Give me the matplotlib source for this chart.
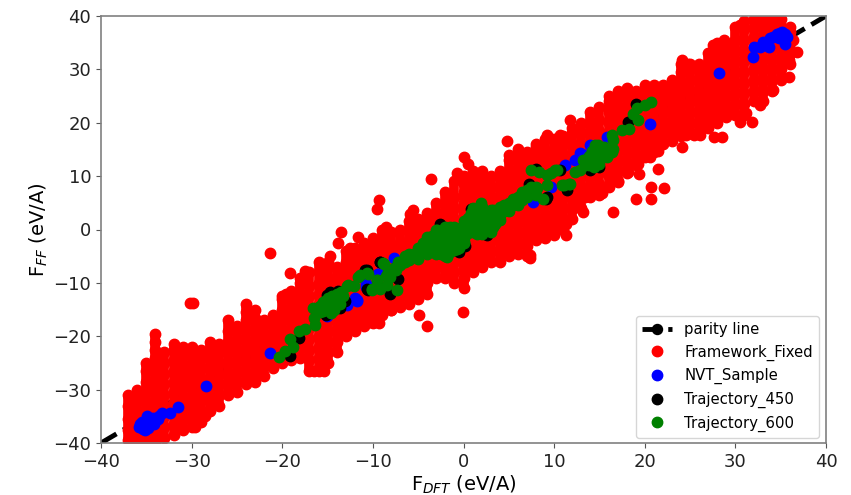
import matplotlib
matplotlib.use('Agg')
import matplotlib.pyplot as plt

parity = [-40, 0, 40]

# Framework_Fixed, main band read column by column
fixed_cols = [-37, -36, -35, -34, -33, -32, -31, -30, -29, -28, -27, -26, -25, -24, -23, -22, -21, -20, -19, -18,
              -17, -16, -15, -14, -13, -12, -11, -10, -9, -8, -7, -6, -5, -4, -3, -2, -1, 0, 1, 2, 3, 4, 5, 6, 7, 8,
              9, 10, 11, 12, 13, 14, 15, 16, 17, 18, 19, 20, 21, 22, 23, 24, 25, 26, 27, 28, 29, 30, 31, 32, 33, 34,
              35, 36]
fixed_ys = [
    [-39.5, -37.5, -35.5, -33, -31],
    [-40, -38, -36, -34, -32, -30],
    [-40, -38.5, -36.5, -34.5, -32.5, -30.5, -28.5, -26.5, -25],
    [-40, -38, -36, -34, -32, -30, -28, -26, -24, -22.5, -21, -19.5],
    [-39, -37, -35, -33, -31, -29, -27, -25, -23],
    [-38.5, -36.5, -34.5, -32.5, -30.5, -28.5, -26.5, -24.5, -22.5, -21.5],
    [-37.5, -35.5, -33.5, -31.5, -29.5, -27.5, -25.5, -23.5, -22],
    [-37, -35, -33, -31, -29, -27, -25, -23, -22],
    [-36, -34, -32, -30, -28, -26, -24, -22.5],
    [-34, -32, -30, -28, -26, -24, -22.5, -21],
    [-33, -31, -29, -27, -25, -23, -21.5],
    [-31, -29, -27, -25, -23, -21, -19, -17],
    [-30.5, -28.5, -26.5, -24.5, -22.5, -20.5, -18],
    [-29, -27, -25, -23, -21, -19, -17, -15.5, -14],
    [-28.5, -26.5, -24.5, -22.5, -20.5, -18.5, -16.5, -15],
    [-27.5, -25.5, -23.5, -21.5, -19.5, -17],
    [-26, -24, -22, -20, -18, -16],
    [-25, -23, -21, -19, -17, -15, -13, -12.5],
    [-24.5, -22.5, -20.5, -18.5, -16.5, -14.5, -13, -11.5],
    [-24, -22, -20, -18, -16, -14, -12, -10, -9],
    [-26.5, -24.5, -22.5, -20.5, -18.5, -16.5, -14.5, -12.5, -10.5, -8],
    [-26.5, -24, -22, -20, -18, -16, -14, -12, -10, -8, -6],
    [-25, -23, -21, -19, -17, -15, -13, -11, -9, -7, -6],
    [-23, -21, -19, -17, -15, -13, -11, -9, -7],
    [-20, -18, -16, -14, -12, -10, -8, -6, -4],
    [-19, -17, -15, -13, -11, -9, -7, -5, -3.5],
    [-18, -16, -14, -12, -10, -8, -6, -4, -2.5],
    [-17.5, -15.5, -13.5, -11.5, -9.5, -7.5, -5.5, -3.5, -1.5],
    [-16, -14, -12, -10, -8, -6, -4, -2, 0],
    [-15, -13, -11, -9, -7, -5, -3, -0.5],
    [-14.5, -12.5, -10.5, -8.5, -6.5, -4.5, -2.5, 0],
    [-14, -12, -10, -8, -6, -4, -2, 0, 1.5],
    [-13, -11, -9, -7, -5, -3, -1, 1, 2],
    [-12, -10, -8, -6, -4, -2, 0, 2, 3],
    [-9, -7, -5, -3, -1, 1, 3, 5],
    [-9, -7, -5, -3, -1, 1, 3, 5, 7],
    [-10, -8, -6, -4, -2, 0, 2, 4, 6, 9],
    [-11, -9, -7, -5, -3, -1, 1, 3, 5, 7, 8.5, 10],
    [-8, -6, -4, -2, 0, 2, 4, 6, 8, 9.5, 11],
    [-7, -5, -3, -1, 1, 3, 5, 7, 9, 11],
    [-6, -4, -2, 0, 2, 4, 6, 8, 10],
    [-6, -4, -2, 0, 2, 4, 6, 8, 10, 11],
    [-5, -3, -1, 1, 3, 5, 7, 9, 11, 13, 14],
    [-4.5, -2.5, -0.5, 1.5, 3.5, 5.5, 7.5, 9.5, 11.5, 13.5, 15],
    [-5, -3, -1, 1, 3, 5, 7, 9, 11, 13, 14.5],
    [-2, 0, 2, 4, 6, 8, 10, 12, 14, 15.5],
    [-1.5, 0.5, 2.5, 4.5, 6.5, 8.5, 10.5, 12.5, 14.5, 17],
    [-1, 1, 3, 5, 7, 9, 11, 13, 15, 17],
    [0, 2, 4, 6, 8, 10, 12, 14, 16, 17.5],
    [2, 4, 6, 8, 10, 12, 14, 16, 18, 19],
    [4, 6, 8, 10, 12, 14, 16, 18, 20],
    [6, 8, 10, 12, 14, 16, 18, 20, 22],
    [6.5, 8.5, 10.5, 12.5, 14.5, 16.5, 18.5, 20.5, 23],
    [8, 10, 12, 14, 16, 18, 20, 22, 24, 25],
    [9, 11, 13, 15, 17, 19, 21, 23, 25, 26],
    [10.5, 12.5, 14.5, 16.5, 18.5, 20.5, 22.5, 24.5, 26.5],
    [12, 14, 16, 18, 20, 22, 24, 26],
    [13.5, 15.5, 17.5, 19.5, 21.5, 23.5, 25.5, 27],
    [14.5, 16.5, 18.5, 20.5, 22.5, 24.5, 27],
    [16, 18, 20, 22, 24, 26, 27],
    [16.5, 18.5, 20.5, 22.5, 24.5, 26.5, 28],
    [17.5, 19.5, 21.5, 23.5, 25.5, 27.5, 29.5, 31],
    [18, 20, 22, 24, 26, 28, 30, 31],
    [18, 20, 22, 24, 26, 28, 30, 31],
    [19, 21, 23, 25, 27, 29, 31, 33],
    [20, 22, 24, 26, 28, 30, 32, 34, 35],
    [21, 23, 25, 27, 29, 31, 33, 34.5],
    [21.5, 23.5, 25.5, 27.5, 29.5, 31.5, 33.5, 35.5, 38],
    [21.5, 23.5, 25.5, 27.5, 29.5, 31.5, 33.5, 35.5, 37.5, 39],
    [24, 26, 28, 30, 32, 34, 36, 38, 39.5],
    [24, 26, 28, 30, 32, 34, 36, 38, 39.5],
    [26, 28, 30, 32, 34, 36, 38, 39.5],
    [28, 30, 32, 34, 36, 38, 39.5],
    [31, 33, 35, 37, 38],
]

# outliers and spikes off the band
fixed_out_x = [-30.2, -29.8, -29.6, -28.5, -21.3, -19.2, -19.6, -17.5, -16.5, -15.4, -13.5, -13.9, -14.7,
               -12.5, -11.6, -9.5, -9.3, -5.6, -5.9, -8.5, -9.5, -4.4, -3.6, 0, 0.5, -0.7, 4.8, 8, 9.2, 10.7,
               11.8, 12.3, 12.2, 11.3, 11.3, 8.9, 7.3, 7.3, -0.1, -4, -4.9, -10.3, -9.3, -8, 24.1, 24.8, 27.5,
               28.7, 30.5, 36.8, 36.4, 35.9, 35.9, 28.5, 27.6, 26.1, 25.4, 24.5, 24.1, 26.7, 21.5, 20.6, 19.3,
               18.2, 19.4, 20.7, 22.1, 19, 20.7, 16.5, 17.1, 15.3, 13.2, 12.1, 13.4, 21.5, 31.8, 30.5, 31.2,
               32.7, 34.2]
fixed_out_y = [-13.7, -13.7, -37, -35, -4.4, -8.1, -12, -7.7, -26.5, -26.5, -0.4, -2.6, -5,
               -3.5, -1.4, 3.9, 5.5, 3.6, 2.9, 0.5, -2.6, 1.8, 9.4, 13.6, 12.3, 10.5, 16.6, 16, 17.7, 17.7,
               20.5, 18.3, 4, 1, -1, -1, -4.8, -5.4, -15.4, -18, -16, -17.3, -17.6, -15, 31.7, 31, 34.5,
               35.5, 38.3, 33.3, 35.5, 28.6, 31.7, 17.4, 17.4, 17.7, 17.7, 17.7, 15.5, 19.5, 11.4, 13.6, 12.3,
               10.7, 10.4, 8, 7.8, 5.8, 5.7, 3.3, 8.9, 6.8, 3.3, 4.2, 6.1, 14.8, 20.2, 20.2, 21.8,
               23.3, 26.1]

nvt_x = [-35.7, -35.1, -34.6, -35.4, -34, -34.9, -33.3, -32.4, -31.5, -35.5, -34.3, -28.4, -21.3, -15.1, -12.9,
         -12, -11.8, -12.9, -11.7, -10.8, -10.8, -9.4, -9.4, -7.7, 7.7, 9.6, 11.2, 12.3, 12.9, 13.1, 14, 15.8,
         20.6, 28.2, 31.9, 32, 32.7, 33.7, 33, 33.8, 34.6, 35.1, 35.5, 35.5, 34.8,
         -35.8, -35.2, -34.8, -34.2, -33.7, -33.6, 35, 34.2, 35.7, 34.9, 33.3]
nvt_y = [-36.4, -36.8, -36.4, -37.4, -35.5, -35, -34.3, -34.3, -33.3, -36, -35.4, -29.3, -23.1, -16.2, -14,
         -12.8, -13.4, -14.2, -13.3, -10.3, -10.8, -8.4, -8.3, -5.4, 5.2, 8, 12, 13, 14.3, 14.2, 15.8, 17.4,
         19.8, 29.4, 32.4, 34.2, 34.2, 34.2, 35.1, 35.8, 36.7, 37, 34.8, 36.7, 35.8,
         -37, -37.5, -37.2, -36.5, -35.5, -35, 36, 36, 36, 36.8, 34.5]

traj450_x = [-19.2, -18.1, -15.1, -13.8, -13.1, -15.2, -13.6, -14.7, -10.9, -9.2, -10.7, -10.6, -10.5, -8.1, -7.2,
             -9.2, -2.6, -0.5, 0.2, 0.8, 2.6, 7.2, 8, 9.2, 9.1, 10.7, 11.4, 14, 14.9, 18.1, 19]
traj450_y = [-23.7, -20.3, -12.2, -11.6, -13.4, -16, -14.8, -11.7, -7.5, -6.1, -11.2, -7.6, -11.4, -12, -9.2,
             -6.1, 1.1, -4.2, -3.1, 3.9, -1, 8.6, 11.4, 6.1, 5.8, 11.1, 7.4, 11.1, 11.7, 20.2, 23.6]

traj600_x = [-20.4, -19.7, -18.8, -19.2, -18.2, -17.5, -16.4, -16.5, -16.6, -15.8, -15.3, -14.7, -14.6, -14,
             -13.6, -12.9, -12.1, -15.5, -11.6, -10.7, -10.1, -9.6, -8.9, -8.5, -16.2, -15.4, -14.7, -14, -13.4,
             -12.8, -11.4, -10.5, -10.1, -9.2, -9.5, -8.4, -7.3, -8.8, -8.1, -7.7, -7, -6, -5.1, -4.2, -3.7,
             -2.9, -2.7, -1.8, -2, -1.5, -0.7, 0, -0.2, 0.8, 1.9, 1.5, 2.6, 3.3, 2.2, 3.3, 4.2, 3.9, 5.2, 6.3,
             7.4, 8.8, 8.1, 7.4, 8.3, 9.2, 10.1, 9.2, 11.1, 11.8, 12.3, 12.9, 9.6, 10.3, 10.85, 11.6, 13.4, 14,
             14.5, 14.9, 15.6, 16.4, 16.5, 16.4, 14.5, 17.5, 18.3, 19.2, 18.7, 19.1, 20, 20.7,
             # fat core around the origin
             -4, -4, -4, -3, -3, -3, -3, -2, -2, -2, -2, -2, -1, -1, -1, -1, 0, 0, 0, 0, 1, 1, 1, 1,
             2, 2, 2, 2, 3, 3, 3, 3, 4, 4, 4, 5, 5, 6, 6, 7, 7, 8, 8,
             -6.5, -6, -5.5, -5, -7.5, -8.3,
             -3.5, -3.5, -2.5, -2.5, -2.5, -1.5, -1.5, -1.5, -0.5, -0.5, -0.5, 0.5, 0.5, 0.5,
             1.5, 1.5, 1.5, 2.5, 2.5, 2.5, 3.5, 3.5, 4.5, 4.5, 5.5, 5.5, 6.5, 6.5,
             -7.2, -6.5, -5.5, -4.8, -4.5, -5,
             # clusters near -15 and +15
             -15.5, -15, -15, -14.5, -14, -13.5, -14.3, -13.3, -15.8,
             13.2, 13.8, 14.2, 14.8, 15.2, 15.5, 16, 14.8, 13.8, 14.4, 15, 15.8, 16.5]
traj600_y = [-23.8, -22.8, -22.1, -20.6, -19, -18.7, -17.8, -16.5, -14.7, -14.4, -13.4, -14, -15.6, -13.1,
             -14, -10.6, -10.6, -15.3, -8.9, -8.1, -11.2, -9.4, -6.3, -8.8, -14.8, -13.9, -13.3, -12.6, -11.7,
             -10.4, -8.6, -8.3, -11.4, -11.1, -9.5, -10.4, -11.4, -6.4, -8.9, -7.3, -6.7, -5.8, -4.8, -3.6, -1.7,
             -0.1, -2.9, -5.1, -1.4, 0.5, -3.6, -2.3, 0.5, 3, 4.9, -0.8, -0.1, 0.5, 3, 3.6, 4.3, 1.8, 5.2, 6.4,
             8, 5.8, 7.7, 11.1, 10.8, 10.2, 11.1, 8.3, 8.3, 8.6, 10.8, 11.1, 10.5, 11.1, 8.3, 8.6, 12, 12.7,
             13.3, 14.8, 14.5, 14.5, 16.7, 17.7, 15.8, 18.6, 18.9, 20.5, 21.7, 22.7, 23.3, 23.9,
             -1.4, -3, -4.5, 0, -1.5, -3, -4.5, 0.5, -1, -2.5, -4, -5, 0.5, -1, -2.5, -3.9, 1.5, 0, -1.5, -2.6,
             4, 2.5, 1, -0.5,
             4.3, 2.5, 1, -0.8, 3.6, 2, 0.5, -0.5, 4.3, 2.8, 1.8, 5, 3.5, 6, 4.5, 7.4, 6, 8, 6.5,
             -6, -4.5, -5.2, -3.5, -7.5, -8,
             -1.2, -3, -1, -3.2, -4.5, -0.5, -2.5, -4.2, -0.5, -2.2, -3.5, 1, -0.6, 2.2,
             3.2, 1.5, 0, 2.6, 1.2, 0, 2.6, 1, 3.5, 4.6, 4.6, 5.7, 5.6, 7,
             -6, -5, -4.5, -3.5, -2.5, -5.5,
             -13.5, -12.8, -14.8, -12.5, -12, -11.8, -15, -12.5, -15.5,
             13, 13.8, 14.8, 13, 13.8, 15.5, 15, 15.8, 12, 11.8, 12.3, 13.5, 15]

fixed_x = [x for x, ys in zip(fixed_cols, fixed_ys) for _ in ys] + fixed_out_x
fixed_y = [y for ys in fixed_ys for y in ys] + fixed_out_y
fixed_lo = [min(ys) for ys in fixed_ys]
fixed_hi = [max(ys) for ys in fixed_ys]

fig = plt.figure(figsize=(8.51, 4.95), dpi=100)
ax = fig.add_axes([101 / 851, 1 - 443 / 495, 725 / 851, 427 / 495])

# marker sits at the origin, hidden under the points, so the legend still shows it
ax.plot(parity, parity, 'k--', lw=3.5, marker='o', ms=7.2, markevery=[1], label='parity line', zorder=1)
# points in the band overlap solid in the original, close the gaps between them
ax.vlines(fixed_cols, fixed_lo, fixed_hi, color='red', lw=7, capstyle='butt', zorder=2)
ax.plot(fixed_x, fixed_y, 'o', color='red', ms=7.5, label='Framework_Fixed', zorder=2)
ax.plot(nvt_x, nvt_y, 'o', color='blue', ms=7.5, label='NVT_Sample', zorder=3)
ax.plot(traj450_x, traj450_y, 'o', color='black', ms=7.5, label='Trajectory_450', zorder=4)
ax.plot(traj600_x, traj600_y, 'o', color='green', ms=7.5, label='Trajectory_600', zorder=5)

ax.set_xlim(-40, 40)
ax.set_ylim(-40, 40)
ax.set_xlabel(r'F$_{DFT}$ (eV/A)', fontsize=14, labelpad=2)
ax.set_ylabel(r'F$_{FF}$ (eV/A)', fontsize=14, labelpad=2.5)
ax.tick_params(labelsize=13, color='#555555', labelcolor='#222222')
for side in ax.spines.values():
    side.set_color('#808080')
    side.set_linewidth(1.2)
ax.legend(loc='lower right', fontsize=10.7, bbox_to_anchor=(1, -0.005))

fig.savefig('out.png', dpi=100)
